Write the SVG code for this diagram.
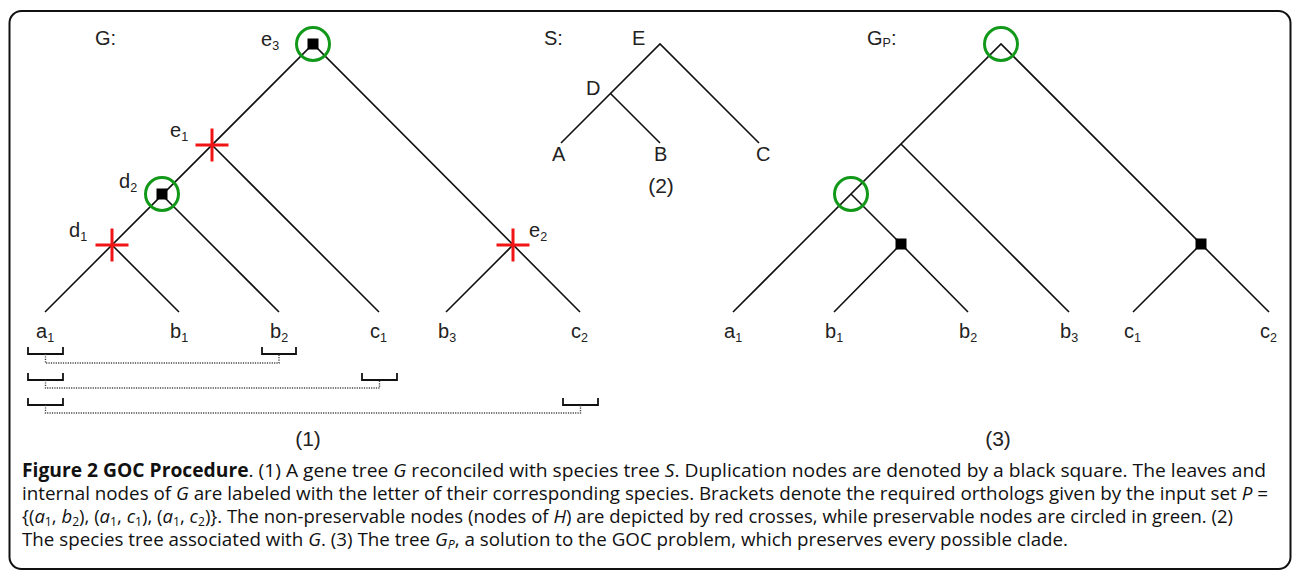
<svg xmlns="http://www.w3.org/2000/svg" width="1292" height="575" viewBox="0 0 1292 575">
<style>
.frame{fill:#fff;stroke:#111;stroke-width:2}
.edge{fill:none;stroke:#111;stroke-width:1.6}
.brk{fill:none;stroke:#111;stroke-width:1.8}
.dot{fill:none;stroke:#444;stroke-width:1.4;stroke-dasharray:1.2 1.2}
.cross{stroke:#f01414;stroke-width:3;fill:none}
.ring{fill:none;stroke:#13991a;stroke-width:3}
.dup{fill:#000}
.lbl{font-family:"Liberation Sans",Arial,sans-serif;font-size:20px;fill:#222}
.sub{font-size:12.5px}
.cap{font-family:"Open Sans","Liberation Sans",sans-serif;font-size:19px;fill:#111}
.b{font-weight:bold}
.i{font-style:italic}
.cs{font-size:12.5px}
</style>
<defs>
<path id="x" class="cross" d="M-16.5,0H16.5M0,-16.5V16.5"/>
<rect id="sq" class="dup" x="-5.5" y="-5.5" width="11" height="11"/>
<circle id="rg" class="ring" r="16.5"/>
</defs>
<rect class="frame" x="9.5" y="11" width="1281" height="558" rx="12"/>

<g id="connectors">
<path class="edge" d="M45,312L313,44L580,312M212,145L379,312M162,195L279,312M112,245L179,312M513,245L446,312"/>
<path class="edge" d="M561,143L660,44L759,143M611,94L660,143"/>
<path class="edge" d="M733,312L1001,44L1269,312M901,144L1069,312M851,194L901,244M901,244L834,312M901,244L968,312M1201,244L1133,312"/>
<path class="brk" d="M28,347V354H63V347M262,347V354H296V347M28,373V380H63V373M362,373V380H397V373M28,398V405H63V398M563,398V405H598V398"/>
<path class="dot" d="M45.5,354V363H279V354M45.5,380V388H379.5V380M45.5,405V413H580.5V405"/>
</g>

<g id="G-tree">
<text class="lbl" x="95" y="45">G:</text>
<g id="e3"><use href="#sq" x="313" y="44"/><use href="#rg" x="313" y="44"/><text class="lbl" x="261" y="46">e<tspan class="sub" dy="4">3</tspan></text></g>
<g id="e1"><use href="#x" x="212" y="145"/><text class="lbl" x="170" y="137">e<tspan class="sub" dy="4">1</tspan></text></g>
<g id="d2"><use href="#sq" x="162" y="194"/><use href="#rg" x="162" y="194"/><text class="lbl" x="119" y="188">d<tspan class="sub" dy="4">2</tspan></text></g>
<g id="d1"><use href="#x" x="112" y="245"/><text class="lbl" x="69" y="237">d<tspan class="sub" dy="4">1</tspan></text></g>
<g id="e2"><use href="#x" x="513" y="245"/><text class="lbl" x="529" y="237">e<tspan class="sub" dy="4">2</tspan></text></g>
<g id="Ga1"><text class="lbl" x="36" y="338">a<tspan class="sub" dy="4">1</tspan></text></g>
<g id="Gb1"><text class="lbl" x="170" y="338">b<tspan class="sub" dy="4">1</tspan></text></g>
<g id="Gb2"><text class="lbl" x="270" y="338">b<tspan class="sub" dy="4">2</tspan></text></g>
<g id="Gc1"><text class="lbl" x="370" y="338">c<tspan class="sub" dy="4">1</tspan></text></g>
<g id="Gb3"><text class="lbl" x="438" y="338">b<tspan class="sub" dy="4">3</tspan></text></g>
<g id="Gc2"><text class="lbl" x="571" y="338">c<tspan class="sub" dy="4">2</tspan></text></g>
<text class="lbl" x="308" y="446" text-anchor="middle" style="font-size:21px">(1)</text>
</g>

<g id="S-tree">
<text class="lbl" x="544" y="45">S:</text>
<g id="SE"><text class="lbl" x="632" y="45">E</text></g>
<g id="SD"><text class="lbl" x="586" y="95">D</text></g>
<g id="SA"><text class="lbl" x="552" y="161">A</text></g>
<g id="SB"><text class="lbl" x="654" y="161">B</text></g>
<g id="SC"><text class="lbl" x="756" y="161">C</text></g>
<text class="lbl" x="661" y="193" text-anchor="middle" style="font-size:21px">(2)</text>
</g>

<g id="Gp-tree">
<text class="lbl" x="867" y="45">G<tspan class="sub" dy="2">P</tspan><tspan dy="-2">:</tspan></text>
<g id="Gp-root"><use href="#rg" x="1001" y="44"/></g>
<g id="Gp-n2"><use href="#rg" x="851" y="194"/></g>
<g id="Gp-d1"><use href="#sq" x="901" y="244"/></g>
<g id="Gp-d2"><use href="#sq" x="1201" y="244"/></g>
<g id="Pa1"><text class="lbl" x="724" y="338">a<tspan class="sub" dy="4">1</tspan></text></g>
<g id="Pb1"><text class="lbl" x="825" y="338">b<tspan class="sub" dy="4">1</tspan></text></g>
<g id="Pb2"><text class="lbl" x="959" y="338">b<tspan class="sub" dy="4">2</tspan></text></g>
<g id="Pb3"><text class="lbl" x="1060" y="338">b<tspan class="sub" dy="4">3</tspan></text></g>
<g id="Pc1"><text class="lbl" x="1124" y="338">c<tspan class="sub" dy="4">1</tspan></text></g>
<g id="Pc2"><text class="lbl" x="1260" y="338">c<tspan class="sub" dy="4">2</tspan></text></g>
<text class="lbl" x="998" y="446" text-anchor="middle" style="font-size:21px">(3)</text>
</g>

<g id="caption">
<text class="cap" x="22" y="477" textLength="1244" lengthAdjust="spacingAndGlyphs"><tspan class="b">Figure 2 GOC Procedure</tspan>. (1) A gene tree <tspan class="i">G</tspan> reconciled with species tree <tspan class="i">S</tspan>. Duplication nodes are denoted by a black square. The leaves and</text>
<text class="cap" x="22" y="500" textLength="1246" lengthAdjust="spacingAndGlyphs">internal nodes of <tspan class="i">G</tspan> are labeled with the letter of their corresponding species. Brackets denote the required orthologs given by the input set <tspan class="i">P</tspan> =</text>
<text class="cap" x="22" y="523" textLength="1211" lengthAdjust="spacingAndGlyphs">{(<tspan class="i">a</tspan><tspan class="cs" dy="3">1</tspan><tspan dy="-3">, </tspan><tspan class="i">b</tspan><tspan class="cs" dy="3">2</tspan><tspan dy="-3">), (</tspan><tspan class="i">a</tspan><tspan class="cs" dy="3">1</tspan><tspan dy="-3">, </tspan><tspan class="i">c</tspan><tspan class="cs" dy="3">1</tspan><tspan dy="-3">), (</tspan><tspan class="i">a</tspan><tspan class="cs" dy="3">1</tspan><tspan dy="-3">, </tspan><tspan class="i">c</tspan><tspan class="cs" dy="3">2</tspan><tspan dy="-3">)}. The non-preservable nodes (nodes of </tspan><tspan class="i">H</tspan>) are depicted by red crosses, while preservable nodes are circled in green. (2)</text>
<text class="cap" x="22" y="546" textLength="1046" lengthAdjust="spacingAndGlyphs">The species tree associated with <tspan class="i">G</tspan>. (3) The tree <tspan class="i">G</tspan><tspan class="i cs" dy="3">P</tspan><tspan dy="-3">, a solution to the GOC problem, which preserves every possible clade.</tspan></text>
</g>
</svg>
